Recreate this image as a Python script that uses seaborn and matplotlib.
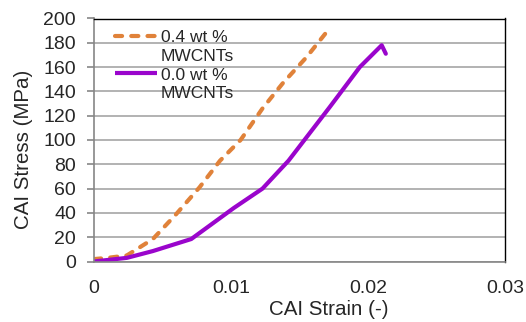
import matplotlib
matplotlib.use("Agg")
import matplotlib.pyplot as plt
from matplotlib.lines import Line2D
import seaborn as sns
import pandas as pd

# CAI test curves
strain_04 = [0.0, 0.0010, 0.0024, 0.0043, 0.0060, 0.0077, 0.0092, 0.0107, 0.0123, 0.0138, 0.0155, 0.0172]
stress_04 = [2.0, 3.0, 5.0, 18.5, 39.0, 61.0, 83.0, 100.0, 126.0, 147.0, 168.0, 192.0]

strain_00 = [0.0, 0.0024, 0.0043, 0.0071, 0.0102, 0.0123, 0.0142, 0.0172, 0.0194, 0.0210, 0.0213]
stress_00 = [0.0, 3.0, 8.6, 18.5, 44.0, 60.0, 83.0, 127.0, 160.0, 178.0, 171.0]

series = ["0.4 wt % MWCNTs", "0.0 wt % MWCNTs"]
colors = ["#E0823A", "#9A05CC"]

x_ticks = [0, 0.01, 0.02, 0.03]
x_tick_labels = ["0", "0.01", "0.02", "0.03"]
y_ticks = list(range(0, 201, 20))

df = pd.concat([
    pd.DataFrame({"strain": strain_04, "stress": stress_04, "sample": series[0]}),
    pd.DataFrame({"strain": strain_00, "stress": stress_00, "sample": series[1]}),
])

sns.set_style("white")
plt.rcParams["font.family"] = ["Liberation Sans", "DejaVu Sans"]

fig = plt.figure(figsize=(5.26, 3.22), dpi=100)
ax = fig.add_axes([94 / 526, 1 - 261.5 / 322, 411 / 526, 243 / 322])

lw = 3.0
dash = (1.7, 2.2)
sns.lineplot(data=df, x="strain", y="stress", hue="sample", style="sample",
             palette=colors, dashes=[dash, ""], sort=False, estimator=None,
             linewidth=lw, ax=ax, legend=False)
for line in ax.get_lines():
    line.set_dash_capstyle("round")
    line.set_solid_capstyle("round")

ax.set_xlim(0, 0.03)
ax.set_ylim(0, 200)
ax.set_xticks(x_ticks)
ax.set_xticklabels(x_tick_labels)
ax.set_yticks(y_ticks)
ax.yaxis.grid(True, color="#A6A6A6", linewidth=1.2)
ax.xaxis.grid(False)
ax.set_axisbelow(True)

for side in ("top", "right"):
    ax.spines[side].set_color("black")
    ax.spines[side].set_linewidth(1.0)
for side in ("left", "bottom"):
    ax.spines[side].set_color("#868686")
    ax.spines[side].set_linewidth(1.2)

ax.tick_params(axis="y", which="both", left=True, length=5, width=1.2, color="#868686",
               labelsize=14, pad=8)
ax.tick_params(axis="x", which="both", bottom=False, labelsize=14, pad=10)

ax.set_xlabel("CAI Strain (-)", fontsize=14.8)
ax.set_ylabel("CAI Stress (MPa)", fontsize=14.8)
ax.xaxis.set_label_coords(0.57, -0.16)
ax.yaxis.set_label_coords(-0.148, 0.46)

# Legend: each series label wraps onto two lines, with the key beside the first line
blank = Line2D([], [], color="none")
handles = [
    Line2D([], [], color=colors[0], linewidth=lw, linestyle=(0, dash), dash_capstyle="round"),
    blank,
    Line2D([], [], color=colors[1], linewidth=lw, solid_capstyle="butt"),
    blank,
]
legend_text = ["0.4 wt %", "MWCNTs", "0.0 wt %", "MWCNTs"]
ax.legend(handles, legend_text, loc="upper left", bbox_to_anchor=(0.026, 0.995), frameon=False,
          fontsize=12.5, handlelength=2.4, handletextpad=0.25, labelspacing=0.2,
          borderaxespad=0.2)

fig.savefig("out.png", dpi=100)
